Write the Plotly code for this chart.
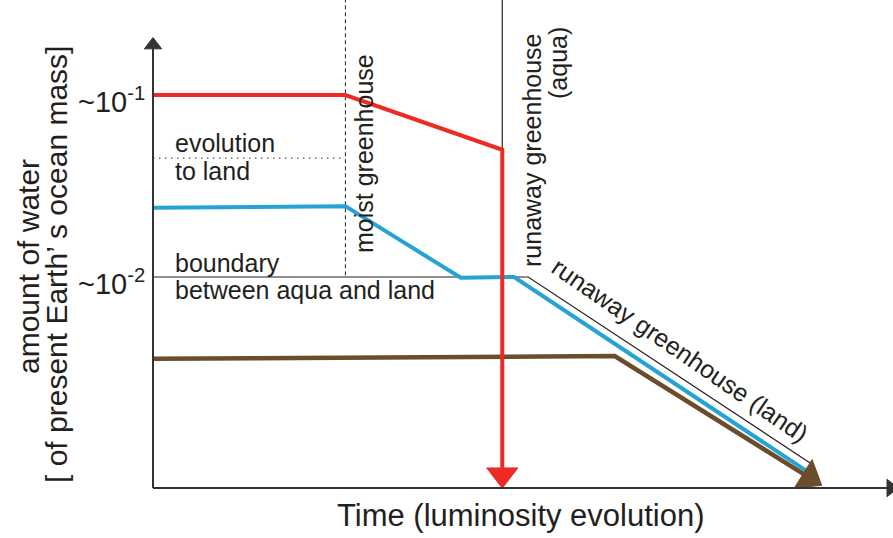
import plotly.graph_objects as go
import math

W, H = 893, 538
FONT = "Liberation Sans, Arial, Helvetica, sans-serif"
TXT = "#231F20"
RED = "#EE2A24"
BLUE = "#24A3D4"
BROWN = "#6B4C2B"
AXC = "#333333"

# ---------------- data (schematic values) ----------------
# time in arbitrary units (luminosity evolution), water in present-Earth ocean masses
t_moist = 2.6          # onset of moist greenhouse
t_runaway_aqua = 4.72  # runaway greenhouse (aqua)

red_t = [0.0, 2.6, 4.72, 4.72]
red_w = [0.1, 0.1, 0.05, 8.2e-4]

blue_t = [0.0, 2.6, 4.16, 4.88, 8.85]
blue_w = [0.024, 0.0245, 0.0099, 0.0100, 8.5e-4]

boundary_t = [0.0, 5.07, 8.9]
boundary_w = [0.01, 0.01, 9.4e-4]

brown_t = [0.0, 6.24, 8.87]
brown_w = [3.55e-3, 3.68e-3, 7.9e-4]

evolution_to_land_w = 0.045
w_axis_min = 6.93e-4
w_axis_top = 0.188
w_top = 0.34
t_axis_end = 9.97

tick_vals = [0.1, 0.01]
tick_text = ["~10<sup>-1</sup>", "~10<sup>-2</sup>"]

# ---------------- axes scaling ----------------
X0_PX, PX_PER_T = 153, 74
Y01_PX, PX_PER_DEC = 95, 182
x_range = [(0 - X0_PX) / PX_PER_T, (W - X0_PX) / PX_PER_T]
y_range = [-1 - (H - Y01_PX) / PX_PER_DEC, -1 + Y01_PX / PX_PER_DEC]


def px(x):
    return x / W


def py(y):
    return 1 - y / H


fig = go.Figure()


def line(t, w, color, width, dash=None, sizes=None, symbol="triangle-up", clip=True):
    mode = "lines" if sizes is None else "lines+markers"
    tr = go.Scatter(x=t, y=w, mode=mode, cliponaxis=clip, opacity=1,
                    line=dict(color=color, width=width, dash=dash),
                    hoverinfo="skip", showlegend=False)
    if sizes is not None:
        tr.marker = dict(size=sizes, color=color, symbol=symbol, opacity=1,
                         angleref="previous", line=dict(width=1, color=color))
    fig.add_trace(tr)


# thin guide lines
line([t_moist, t_moist], [w_top, 0.01], TXT, 1, dash="4px,3px")
line([0, t_moist], [evolution_to_land_w, evolution_to_land_w], TXT, 1, dash="1.5px,4.5px")
line([t_runaway_aqua, t_runaway_aqua], [0.05, w_top], TXT, 1.2)
line(boundary_t, boundary_w, TXT, 1.2)

# evolution tracks
line(blue_t, blue_w, BLUE, 4)
line(brown_t, brown_w, BROWN, 4.5, sizes=[0, 0, 29])
line(red_t, red_w, RED, 4, sizes=[0, 0, 0, 27])

# axes with arrows
line([0, 0], [w_axis_min, w_axis_top], AXC, 2, sizes=[0, 15], clip=False)
line([0, t_axis_end], [w_axis_min, w_axis_min], AXC, 2, sizes=[0, 15], clip=False)

ann = []
for v, s in zip(tick_vals, tick_text):
    ann.append(dict(x=0, y=math.log10(v), xref="x", yref="y", text=s, showarrow=False,
                    xanchor="right", yanchor="middle", xshift=-6, yshift=-5,
                    font=dict(size=29, color=TXT, family=FONT)))


def label(text, x, y, size=25, angle=0, xanchor="center"):
    ann.append(dict(x=px(x), y=py(y), xref="paper", yref="paper", text=text,
                    showarrow=False, textangle=angle, xanchor=xanchor, yanchor="middle",
                    font=dict(size=size, color=TXT, family=FONT)))


label("evolution", 173, 143, xanchor="left")
label("to land", 173, 171, xanchor="left")
label("boundary", 173, 263, xanchor="left")
label("between aqua and land", 173, 290, xanchor="left")
label("moist greenhouse", 364, 154, angle=-90)
label("runaway greenhouse", 532, 150, angle=-90)
label("(aqua)", 558, 63, angle=-90)
label("runaway greenhouse (land)", 680, 350, angle=34.5)
label("amount of water", 28, 267, size=30, angle=-90)
label("[ of present Earth\u2019 s ocean mass]", 56, 265, size=30, angle=-90)
label("Time (luminosity evolution)", 521, 515, size=31)

fig.update_layout(
    width=W, height=H, autosize=False,
    margin=dict(l=0, r=0, t=0, b=0),
    paper_bgcolor="white", plot_bgcolor="white",
    xaxis=dict(visible=False, range=x_range, fixedrange=True),
    yaxis=dict(visible=False, type="log", range=y_range, fixedrange=True),
    annotations=ann,
    showlegend=False,
    hovermode=False,
)

fig.write_html("out.html", config={"displayModeBar": False, "staticPlot": True},
               post_script="document.body.style.margin='0';document.body.style.overflow='hidden';")
